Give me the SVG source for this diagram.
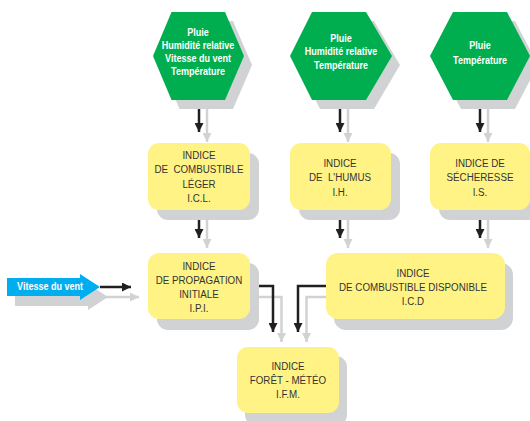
<svg xmlns="http://www.w3.org/2000/svg" width="530" height="421" viewBox="0 0 530 421">
<style>
.hex{fill:#00AE4F}
.sh{fill:#D1D2D4}
.box{fill:#FFF385}
.ht{font-family:"Liberation Sans",Arial,sans-serif;font-weight:bold;font-size:10.5px;fill:#fff;text-anchor:middle}
.bt{font-family:"Liberation Sans",Arial,sans-serif;font-size:11px;fill:#333;text-anchor:middle;white-space:pre}
.c{transform-box:fill-box;transform-origin:center;transform:scaleX(0.86)}
.d{transform-box:fill-box;transform-origin:center;transform:scaleX(0.89)}
.k{fill:none;stroke:#231F20;stroke-width:2.5;marker-end:url(#ak)}
.g{fill:none;stroke:#D1D2D4;stroke-width:2.5;marker-end:url(#ag)}
</style>
<defs>
<marker id="ak" markerUnits="userSpaceOnUse" markerWidth="9" markerHeight="9" viewBox="0 0 9 9" refX="9" refY="4.5" orient="auto"><path d="M0,0 L9,4.5 L0,9 z" fill="#231F20"/></marker>
<marker id="ag" markerUnits="userSpaceOnUse" markerWidth="9" markerHeight="9" viewBox="0 0 9 9" refX="9" refY="4.5" orient="auto"><path d="M0,0 L9,4.5 L0,9 z" fill="#D1D2D4"/></marker>
</defs>
<rect width="530" height="421" fill="#fff"/>

<g id="connectors">
<path class="g" d="M207,108 L207,142"/>
<path class="k" d="M199,100 L199,132"/>
<path class="g" d="M348,108 L348,142"/>
<path class="k" d="M340,100 L340,132"/>
<path class="g" d="M488,108 L488,142"/>
<path class="k" d="M480,100 L480,132"/>
<path class="g" d="M207,219 L207,248"/>
<path class="k" d="M199,210 L199,238"/>
<path class="g" d="M348,219 L348,248"/>
<path class="k" d="M340,210 L340,238"/>
<path class="g" d="M488,219 L488,248"/>
<path class="k" d="M480,210 L480,238"/>
<path class="g" d="M105,297 L139,297"/>
<path class="k" d="M100,287 L131,287"/>
<path class="g" d="M258,297 L281.5,297 L281.5,342"/>
<path class="k" d="M250,286 L273,286 L273,332"/>
<path class="g" d="M326,297 L306.5,297 L306.5,342"/>
<path class="k" d="M326,286 L298,286 L298,332"/>
</g>

<g id="hex1">
<polygon class="sh" points="179.5,21 233,21 252,65 233,109 179.5,109 161,65"/>
<polygon class="hex" points="171.5,12 225,12 244,56 225,100 171.5,100 153,56"/>
<text class="ht c" x="198" y="36">Pluie</text>
<text class="ht c" x="198" y="49">Humidité relative</text>
<text class="ht c" x="198" y="62">Vitesse du vent</text>
<text class="ht c" x="198" y="75">Température</text>
</g>
<g id="hex2">
<polygon class="sh" points="320,21 374,21 400,65 374,109 320,109 298,65"/>
<polygon class="hex" points="312,12 366,12 392,56 366,100 312,100 290,56"/>
<text class="ht c" x="341" y="42">Pluie</text>
<text class="ht c" x="341" y="55.5">Humidité relative</text>
<text class="ht c" x="341" y="69">Température</text>
</g>
<g id="hex3">
<polygon class="sh" points="461,21 515,21 538,65 515,109 461,109 438,65"/>
<polygon class="hex" points="453,12 507,12 530,56 507,100 453,100 430,56"/>
<text class="ht c" x="480" y="49">Pluie</text>
<text class="ht c" x="480" y="64">Température</text>
</g>

<g id="icl">
<rect class="sh" x="157" y="153" width="102" height="67" rx="11"/>
<rect class="box" x="148" y="143" width="102" height="67" rx="11"/>
<text class="bt d" x="199" y="159">INDICE</text>
<text class="bt d" x="199" y="173.5">DE  COMBUSTIBLE</text>
<text class="bt d" x="199" y="188">LÉGER</text>
<text class="bt d" x="199" y="202.5">I.C.L.</text>
</g>
<g id="ih">
<rect class="sh" x="299" y="153" width="101" height="67" rx="11"/>
<rect class="box" x="290" y="143" width="101" height="67" rx="11"/>
<text class="bt d" x="340" y="167">INDICE</text>
<text class="bt d" x="340" y="181.5">DE  L'HUMUS</text>
<text class="bt d" x="340" y="196">I.H.</text>
</g>
<g id="is">
<rect class="sh" x="439" y="153" width="100" height="67" rx="11"/>
<rect class="box" x="430" y="143" width="100" height="67" rx="11"/>
<text class="bt d" x="480" y="167">INDICE DE</text>
<text class="bt d" x="480" y="181.5">SÉCHERESSE</text>
<text class="bt d" x="480" y="196">I.S.</text>
</g>
<g id="ipi">
<rect class="sh" x="157" y="263" width="102" height="67" rx="11"/>
<rect class="box" x="148" y="253" width="102" height="66" rx="11"/>
<text class="bt d" x="199" y="270">INDICE</text>
<text class="bt d" x="199" y="284">DE PROPAGATION</text>
<text class="bt d" x="199" y="298">INITIALE</text>
<text class="bt d" x="199" y="312">I.P.I.</text>
</g>
<g id="icd">
<rect class="sh" x="334" y="263" width="179" height="67" rx="12"/>
<rect class="box" x="326" y="253" width="179" height="66" rx="12"/>
<text class="bt d" x="413" y="277">INDICE</text>
<text class="bt d" x="413" y="291">DE COMBUSTIBLE DISPONIBLE</text>
<text class="bt d" x="413" y="305">I.C.D</text>
</g>
<g id="ifm">
<rect class="sh" x="245" y="356" width="102" height="70" rx="11"/>
<rect class="box" x="237" y="347" width="102" height="66" rx="11"/>
<text class="bt d" x="288" y="370">INDICE</text>
<text class="bt d" x="288" y="384">FORÊT - MÉTÉO</text>
<text class="bt d" x="288" y="398">I.F.M.</text>
</g>
<g id="wind">
<polygon class="sh" points="15,288 88,288 88,284 108,297 88,310 88,306 15,306"/>
<polygon fill="#00AEEF" points="7,278 80,278 80,274 100,287 80,300 80,296 7,296"/>
<text class="ht c" x="50" y="290.5">Vitesse du vent</text>
</g>
</svg>
